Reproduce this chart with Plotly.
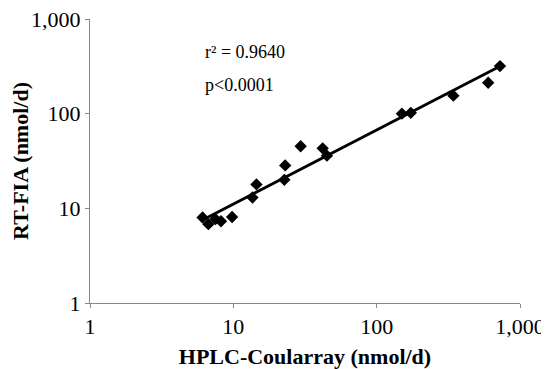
import numpy as np
import plotly.graph_objects as go

# Data
hplc_coularray = [6.1, 6.7, 7.5, 8.2, 9.8, 13.6, 14.5, 22.7, 23.0, 29.5, 42.0, 45.0, 150, 173, 343, 600, 725]
rt_fia = [8.0, 6.8, 7.7, 7.3, 8.1, 13.0, 17.9, 20.0, 28.4, 45.3, 43.0, 36.0, 100, 102, 155, 212, 318]

tick_vals = [1, 10, 100, 1000]
tick_text = ["1", "10", "100", "1,000"]

annot_lines = ["r² = 0.9640", "p<0.0001"]

# Power trendline (linear fit in log-log space)
lx = np.log10(hplc_coularray)
ly = np.log10(rt_fia)
slope, intercept = np.polyfit(lx, ly, 1)
fit_x = np.logspace(lx.min(), lx.max(), 50)
fit_y = 10 ** (intercept + slope * np.log10(fit_x))

serif = "Liberation Serif, Times New Roman, serif"

fig = go.Figure()
fig.add_trace(go.Scatter(x=fit_x, y=fit_y, mode="lines",
                         line=dict(color="black", width=2.8), hoverinfo="skip",
                         showlegend=False))
fig.add_trace(go.Scatter(x=hplc_coularray, y=rt_fia, mode="markers",
                         marker=dict(symbol="diamond", size=9.5, color="black"),
                         showlegend=False))

fig.add_annotation(x=0.262, y=0.883, xref="paper", yref="paper", text=annot_lines[0],
                   showarrow=False, xanchor="left", yanchor="middle",
                   font=dict(family=serif, size=18, color="black"))
fig.add_annotation(x=0.262, y=0.766, xref="paper", yref="paper", text=annot_lines[1],
                   showarrow=False, xanchor="left", yanchor="middle",
                   font=dict(family=serif, size=18, color="black"))

axis_common = dict(type="log", range=[0, 3], tickvals=tick_vals, ticktext=tick_text,
                   showgrid=False, zeroline=False, showline=True, linecolor="#888",
                   linewidth=1, ticks="outside", ticklen=4, tickcolor="#888",
                   automargin=False, ticklabeloverflow="allow",
                   tickfont=dict(family=serif, size=22, color="black"))

fig.update_xaxes(**axis_common,
                 title=dict(text="<b>HPLC-Coularray (nmol/d)</b>", standoff=16,
                            font=dict(family=serif, size=22, color="black")))
fig.update_yaxes(**axis_common,
                 title=dict(text="<b>RT-FIA (nmol/d)</b>", standoff=6,
                            font=dict(family=serif, size=22, color="black")))

# page body has an 8px default margin, so the figure is sized/offset to compensate
fig.update_layout(width=541, height=361, margin=dict(l=82, r=29, t=11, b=66),
                  paper_bgcolor="white", plot_bgcolor="white")

fig.write_html("out.html")
